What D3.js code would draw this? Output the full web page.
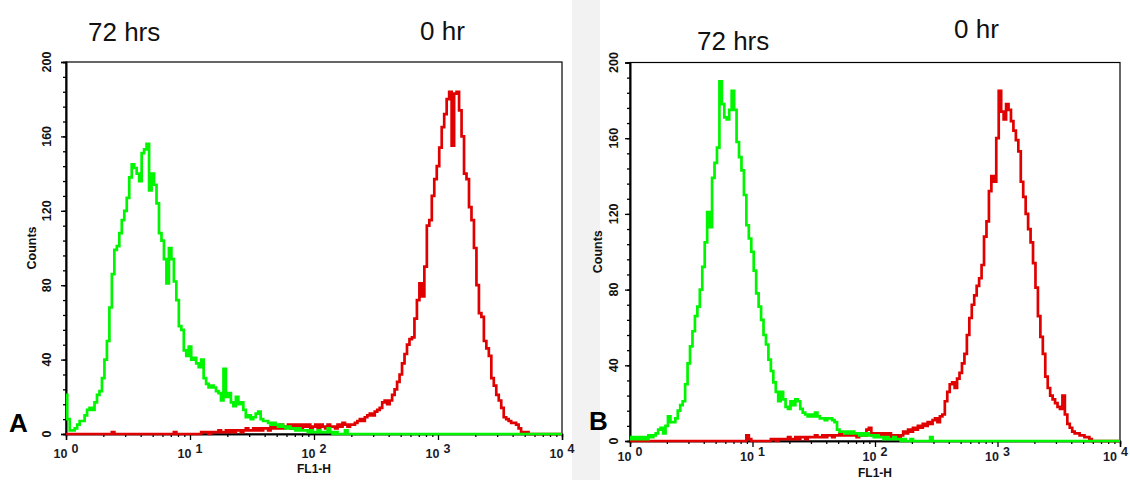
<!DOCTYPE html>
<html>
<head>
<meta charset="utf-8">
<script src="https://cdn.jsdelivr.net/npm/d3@7"></script>
<style>
  html, body { margin: 0; padding: 0; background: #fff; }
  svg { display: block; font-family: "Liberation Sans", Arial, sans-serif; }
</style>
</head>
<body>
<svg id="chart" width="1130" height="480"></svg>
<script>
// FL1-H fluorescence histograms; one channel every 0.02 decade (log10 units).
const channelWidth = 0.02;
const axisDecades = 4;

const countTicks = [0, 40, 80, 120, 160, 200];
const countMinorStep = 8;
const decadeTicks = [1, 10, 100, 1000, 10000];
const decadeExponents = ["0", "1", "2", "3", "4"];
const xTitle = "FL1-H";
const yTitle = "Counts";
const seriesNames = ["72 hrs", "0 hr"];
const panelLetters = ["A", "B"];

// Panel A — 72 hrs (first channel at log10 = 0.00)
const panelA72Start = 0.00;
const panelA72 = [
  21, 8, 2, 2, 3, 5, 7, 7, 10, 13,
  14, 13, 17, 21, 23, 30, 40, 50, 68, 86,
  99, 101, 108, 115, 120, 127, 138, 145, 143, 140,
  136, 151, 153, 156, 131, 140, 134, 124, 108, 104,
  94, 81, 100, 94, 82, 72, 58, 56, 45, 42,
  47, 40, 41, 38, 36, 40, 30, 27, 25, 26,
  25, 23, 22, 18, 35, 20, 22, 17, 15, 20,
  16, 17, 13, 9, 10, 8, 9, 11, 12, 8,
  7, 7, 6, 5, 6, 5, 4, 5, 4, 3,
  4, 3, 3, 2, 3, 2, 2, 2, 1, 2,
  1, 1, 2, 1, 1, 1, 3, 1, 0, 1,
  0, 0, 0, 2, 0, 0
];

// Panel A — 0 hr (first channel at log10 = 0.38)
const panelA0Start = 0.38;
const panelA0 = [
  1,
  0, 0, 0, 0, 0, 0, 0, 0, 0, 0, 0, 0, 0, 0, 0, 0, 0, 0, 0, 0, 0, 0, 0, 0,
  1,
  0, 0, 0, 0, 0, 0, 0, 0, 0, 0,
  1, 1, 1, 0, 1, 1, 1, 2, 1, 1,
  2, 1, 2, 1, 2, 2, 1, 2, 3, 2,
  2, 3, 2, 3, 2, 3, 3, 2, 4, 3,
  4, 3, 5, 3, 4, 5, 3, 5, 4, 5,
  3, 5, 4, 5, 3, 4, 5, 3, 5, 4,
  3, 5, 4, 4, 3, 5, 4, 6, 5, 4,
  5, 5, 6, 7, 8, 7, 9, 10, 11, 10,
  12, 13, 14, 17, 18, 16, 18, 21, 24, 28,
  32, 38, 43, 48, 51, 52, 62, 72, 81, 74,
  90, 112, 115, 128, 137, 144, 154, 165, 172, 180,
  184, 155, 183, 184, 174, 160, 140, 137, 122, 115,
  100, 80, 65, 63, 50, 46, 42, 30, 26, 21,
  18, 14, 9, 8, 7, 6, 6, 5, 3, 1,
  1, 1, 0
];

// Panel B — 72 hrs (first channel at log10 = 0.00)
const panelB72Start = 0.00;
const panelB72 = [
  2, 1, 2, 1, 2, 1, 2, 1, 3, 2,
  3, 4, 6, 7, 4, 8, 13, 10, 10, 12,
  16, 19, 21, 30, 41, 50, 58, 66, 71, 80,
  92, 105, 121, 113, 139, 147, 155, 190, 178, 171,
  170, 175, 185, 175, 158, 150, 143, 130, 114, 107,
  100, 90, 78, 71, 64, 56, 51, 43, 37, 31,
  26, 21, 26, 22, 18, 17, 21, 19, 22, 21,
  17, 15, 14, 13, 14, 13, 15, 13, 12, 12,
  11, 12, 12, 11, 10, 6, 5, 5, 4, 5,
  4, 5, 4, 4, 3, 4, 3, 4, 3, 3,
  2, 3, 2, 2, 1, 2, 1, 1, 2, 1,
  1, 0, 1, 0, 0, 1, 0, 0, 0, 0,
  0, 0, 0, 2, 0
];

// Panel B — 0 hr (first channel at log10 = 0.94)
const panelB0Start = 0.94;
const panelB0 = [
  0, 3, 1,
  0, 0, 0, 0, 0, 0, 0, 0,
  1, 1, 0, 1, 1, 1, 1, 2, 1, 1,
  2, 1, 2, 2, 1, 2, 2, 2, 3, 2,
  2, 3, 2, 3, 3, 2, 3, 3, 4, 3,
  3, 4, 3, 4, 3, 2, 3, 4, 3, 6,
  7, 3, 4, 3, 4, 3, 4, 3, 4, 2,
  3, 3, 2, 3, 5, 4, 6, 5, 7, 6,
  8, 7, 9, 8, 10, 9, 11, 12, 10, 13,
  14, 21, 26, 30, 31, 28, 33, 36, 41, 46,
  56, 65, 72, 77, 82, 86, 93, 108, 116, 132,
  140, 137, 160, 185, 174, 170, 178, 175, 169, 164,
  159, 153, 137, 129, 120, 112, 105, 94, 81, 66,
  55, 46, 34, 28, 24, 22, 20, 18, 17, 24,
  14, 9, 7, 5, 4, 4, 3, 3, 2, 2,
  1, 0
];

const colors = { "72 hrs": "#00f500", "0 hr": "#e00000" };

// Pad a series to the full 0–4 decade channel range (empty channels = 0 counts).
function toChannels(start, values) {
  const n = Math.round(axisDecades / channelWidth) + 1;
  const offset = Math.round(start / channelWidth);
  return d3.range(n).map(k => {
    const j = k - offset;
    return { fl: Math.pow(10, k * channelWidth), count: (j >= 0 && j < values.length) ? values[j] : 0 };
  });
}

const panels = [
  {
    letter: panelLetters[0],
    left: 66, right: 562, top: 62, bottom: 434,
    yLabelGap: 19, yTitleGap: 34, xLabelY: 458, xTitleY: 473,
    letterPos: [9, 432],
    titlePos: [[88, 41], [420, 40]],
    series: [
      { name: seriesNames[1], data: toChannels(panelA0Start, panelA0) },
      { name: seriesNames[0], data: toChannels(panelA72Start, panelA72) }
    ]
  },
  {
    letter: panelLetters[1],
    left: 630, right: 1120, top: 62.5, bottom: 441,
    yLabelGap: 16, yTitleGap: 32, xLabelY: 461, xTitleY: 477,
    letterPos: [589, 430],
    titlePos: [[697, 50], [954, 38]],
    series: [
      { name: seriesNames[1], data: toChannels(panelB0Start, panelB0) },
      { name: seriesNames[0], data: toChannels(panelB72Start, panelB72) }
    ]
  }
];

const svg = d3.select("#chart");
const pageWidth = +svg.attr("width");

// faint band between the two panels
svg.append("rect").attr("x", 572).attr("y", 0).attr("width", 28).attr("height", 480).attr("fill", "#f2f2f2");

panels.forEach(p => {
  const g = svg.append("g");
  const x = d3.scaleLog().domain([1, 10000]).range([p.left, p.right]);
  const y = d3.scaleLinear().domain([0, 200]).range([p.bottom, p.top]);

  g.append("rect")
    .attr("x", p.left).attr("y", p.top)
    .attr("width", p.right - p.left).attr("height", p.bottom - p.top)
    .attr("fill", "#fff").attr("stroke", "#000").attr("stroke-width", 1.2);

  // y axis: major + minor ticks
  const yMinor = g.append("g").attr("transform", `translate(${p.left},0)`)
    .call(d3.axisLeft(y).tickValues(d3.range(0, 201, countMinorStep)).tickSize(3).tickFormat(() => ""));
  const yMajor = g.append("g").attr("transform", `translate(${p.left},0)`)
    .call(d3.axisLeft(y).tickValues(countTicks).tickSize(5).tickFormat(() => ""));
  [yMinor, yMajor].forEach(a => {
    a.select(".domain").attr("stroke", "#000").attr("stroke-width", 1.6);
    a.selectAll(".tick line").attr("stroke", "#000").attr("stroke-width", 1.3);
  });

  g.selectAll(".ylab").data(countTicks).join("text")
    .attr("transform", d => `translate(${p.left - p.yLabelGap},${y(d)}) rotate(-90)`)
    .attr("text-anchor", "middle").attr("dominant-baseline", "central")
    .attr("font-size", 12.5).attr("font-weight", "bold").attr("fill", "#111")
    .text(d => d);

  g.append("text")
    .attr("transform", `translate(${p.left - p.yTitleGap},${(p.top + p.bottom) / 2}) rotate(-90)`)
    .attr("text-anchor", "middle").attr("dominant-baseline", "central")
    .attr("font-size", 12.5).attr("font-weight", "bold").attr("fill", "#111")
    .text(yTitle);

  // x axis: decade + minor log ticks
  const minorVals = [];
  decadeTicks.slice(0, -1).forEach(d => { for (let m = 2; m <= 9; m++) minorVals.push(d * m); });
  const xMinor = g.append("g").attr("transform", `translate(0,${p.bottom})`)
    .call(d3.axisBottom(x).tickValues(minorVals).tickSize(3).tickFormat(() => ""));
  const xMajor = g.append("g").attr("transform", `translate(0,${p.bottom})`)
    .call(d3.axisBottom(x).tickValues(decadeTicks).tickSize(6).tickFormat(() => ""));
  [xMinor, xMajor].forEach(a => {
    a.select(".domain").attr("stroke", "#000").attr("stroke-width", 1.4);
    a.selectAll(".tick line").attr("stroke", "#000").attr("stroke-width", 1.3);
  });

  const xl = g.selectAll(".xlab").data(decadeTicks).join("text")
    .attr("x", d => x(d)).attr("y", p.xLabelY)
    .attr("text-anchor", "middle")
    .attr("font-size", 12.5).attr("font-weight", "bold").attr("fill", "#1a1a2a");
  xl.append("tspan").text("10");
  xl.append("tspan").attr("dx", 4).attr("dy", -5).text((d, i) => decadeExponents[i]);
  // keep the last decade label inside the page
  xl.each(function () {
    const b = this.getBBox();
    const over = b.x + b.width - (pageWidth - 2);
    if (over > 0) d3.select(this).attr("x", +d3.select(this).attr("x") - over);
  });

  g.append("text")
    .attr("x", x(100)).attr("y", p.xTitleY)
    .attr("text-anchor", "middle")
    .attr("font-size", 12).attr("font-weight", "bold").attr("fill", "#111")
    .text(xTitle);

  // histogram traces (0 hr underneath, 72 hrs on top)
  const line = d3.line()
    .x(d => x(d.fl))
    .y(d => y(d.count))
    .curve(d3.curveStep);

  p.series.forEach(s => {
    g.append("path")
      .datum(s.data)
      .attr("d", line)
      .attr("fill", "none")
      .attr("stroke", colors[s.name])
      .attr("stroke-width", 2.7)
      .attr("stroke-linejoin", "miter");
  });

  // series captions above the peaks
  seriesNames.forEach((name, i) => {
    g.append("text")
      .attr("x", p.titlePos[i][0]).attr("y", p.titlePos[i][1])
      .attr("font-size", 26).attr("fill", "#111")
      .text(name);
  });

  g.append("text")
    .attr("x", p.letterPos[0]).attr("y", p.letterPos[1])
    .attr("font-size", 26).attr("font-weight", "bold").attr("fill", "#000")
    .text(p.letter);
});
</script>
</body>
</html>
